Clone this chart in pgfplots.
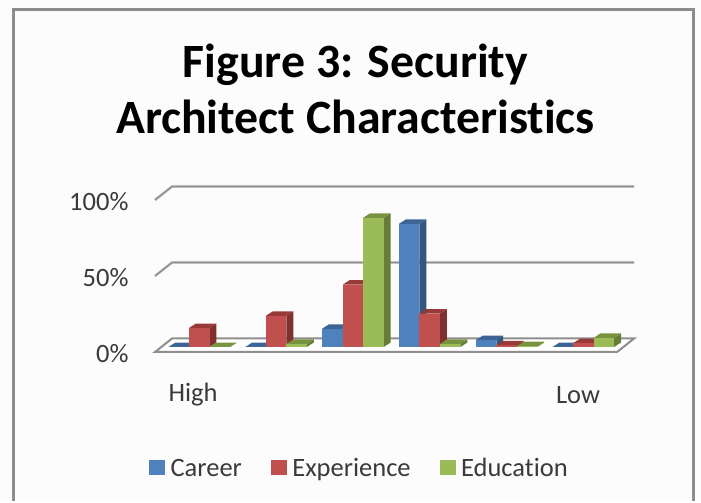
\documentclass[border=0pt]{standalone}
\usepackage{fontspec}
\setmainfont{Carlito}[Ligatures=NoCommon]
\usepackage{pgfplots}
\pgfplotsset{compat=1.18}

\definecolor{framegray}{HTML}{8C8C8C}
\definecolor{gridgray}{HTML}{8E8E8E}
\definecolor{gridsoft}{HTML}{DEDEDE}
\definecolor{labelgray}{HTML}{3A3A3A}
% front, top and side shades of the three series
\definecolor{front0}{HTML}{4F81BD}\definecolor{top0}{HTML}{3C6596}\definecolor{side0}{HTML}{33557F}
\definecolor{front1}{HTML}{C0504D}\definecolor{top1}{HTML}{983A37}\definecolor{side1}{HTML}{7F312F}
\definecolor{front2}{HTML}{9BBB59}\definecolor{top2}{HTML}{789340}\definecolor{side2}{HTML}{667C38}

% box geometry in axis units
\newcommand{\barw}{0.267}
\newcommand{\depx}{0.09}
\newcommand{\depy}{2.96}

% one extruded bar: category, series, value in percent
\newcommand{\threedbar}[3]{%
  \pgfmathsetmacro\xl{#1+#2*\barw}%
  \pgfmathsetmacro\xr{\xl+\barw}%
  \pgfmathsetmacro\xlb{\xl+\depx}%
  \pgfmathsetmacro\xrb{\xr+\depx}%
  \pgfmathsetmacro\vb{#3+\depy}%
  \pgfmathsetmacro\zb{\depy}%
  \addplot[forget plot,fill=side#2,draw=none] coordinates {(\xr,0)(\xrb,\zb)(\xrb,\vb)(\xr,#3)} --cycle;
  \addplot[forget plot,fill=top#2,draw=none] coordinates {(\xl,#3)(\xr,#3)(\xrb,\vb)(\xlb,\vb)} --cycle;
  \addplot[forget plot,fill=front#2,draw=none] coordinates {(\xl,0)(\xr,0)(\xr,#3)(\xl,#3)} --cycle;
}

% one slanted wall line and its back edge
\newcommand{\wallline}[1]{%
  \pgfmathsetmacro\yf{#1-3.29}%
  \pgfmathsetmacro\yk{#1+5.6}%
  \addplot[forget plot,draw=gridsoft,line width=3pt] coordinates {(-0.176,\yf)(0.0456,\yk)(6.06,\yk)};
  \addplot[forget plot,draw=gridgray,line width=1.6pt] coordinates {(-0.176,\yf)(0.0456,\yk)(6.06,\yk)};
}

\begin{document}
\begin{tikzpicture}[x=1pt,y=1pt]
  % page and chart frame
  \fill[white!99!black] (-155,-149) rectangle (546,352);
  \draw[framegray,line width=3pt] (-141.5,-149) -- (-141.5,342.5) -- (538.5,342.5) -- (538.5,-149);

  \begin{axis}[
    at={(0,0)},anchor=south west,
    scale only axis,width=479pt,height=165.5pt,
    xmin=-0.176,xmax=6.06,ymin=-3.29,ymax=105.6,
    clip=false,
    axis line style={draw=none},
    major tick length=0pt,
    xtick={0.319,5.332},
    xticklabels={High,Low},
    ytick={-3.29,46.71,96.71},
    yticklabels={0\%,50\%,100\%},
    tick label style={font=\fontsize{26.5}{30}\selectfont,text=labelgray},
    yticklabel style={anchor=east,xshift=-23pt,yshift=-1.8pt},
    xticklabel style={anchor=center,yshift=-43pt},
    title={Figure 3: Security\\Architect Characteristics},
    title style={at={(0.4186,1.554)},anchor=center,align=center,
      font=\fontsize{47.8}{56}\selectfont\bfseries,text=black},
    legend style={at={(0.4269,-0.695)},anchor=center,draw=none,fill=none,
      font=\fontsize{26.5}{30}\selectfont,text=labelgray,
      nodes={text height=25pt,text depth=6.5pt},
      legend columns=3,
      /tikz/every odd column/.append style={column sep=4pt},
      /tikz/every even column/.append style={column sep=27pt},
      legend cell align=left},
    legend image code/.code={\fill[#1] (0pt,-7pt) rectangle (15pt,7pt);},
  ]
    \addlegendimage{front0}\addlegendentry{Career}
    \addlegendimage{front1}\addlegendentry{Experience}
    \addlegendimage{front2}\addlegendentry{Education}

    % gridlines
    \wallline{100}
    \wallline{50}

    % floor of the plot
    \addplot[forget plot,fill=white,draw=gridgray,line width=2pt]
      coordinates {(-0.176,-3.29)(0.0456,5.6)(6.06,5.6)(5.84,-3.29)} --cycle;

    % Career, Experience, Education for each category
    \threedbar{0}{0}{0}\threedbar{0}{1}{12.5}\threedbar{0}{2}{0}
    \threedbar{1}{0}{0}\threedbar{1}{1}{20.5}\threedbar{1}{2}{2}
    \threedbar{2}{0}{12}\threedbar{2}{1}{41}\threedbar{2}{2}{85}
    \threedbar{3}{0}{81}\threedbar{3}{1}{22}\threedbar{3}{2}{2}
    \threedbar{4}{0}{4.5}\threedbar{4}{1}{1}\threedbar{4}{2}{0.5}
    \threedbar{5}{0}{0}\threedbar{5}{1}{2.5}\threedbar{5}{2}{6}
  \end{axis}
\end{tikzpicture}
\end{document}
